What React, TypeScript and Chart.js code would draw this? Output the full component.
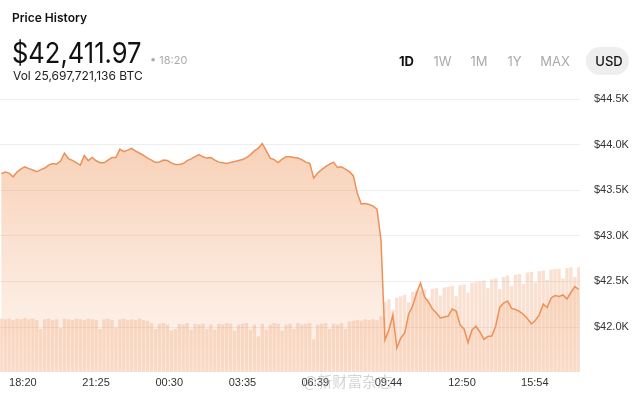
import React, { useEffect, useRef } from 'react';
import { Chart, registerables } from 'chart.js';

Chart.register(...registerables);

// x-axis tick labels (time of day)
const timeLabels = ['18:20', '21:25', '00:30', '03:35', '06:39', '09:44', '12:50', '15:54'];
// y-axis tick values (USD)
const priceTicks = [42000, 42500, 43000, 43500, 44000, 44500];

// Price samples, every 10 minutes, starting 20 min before 18:20
const START_MIN = -20;
const STEP_MIN = 10;
const priceValues = [
  43683, 43700, 43689, 43648, 43700, 43735, 43758, 43738, 43722, 43703,
  43727, 43744, 43776, 43793, 43787, 43820, 43908, 43848, 43828, 43804,
  43776, 43881, 43826, 43861, 43824, 43802, 43802, 43831, 43859, 43859,
  43952, 43924, 43941, 43959, 43930, 43906, 43883, 43853, 43831, 43806,
  43811, 43831, 43826, 43801, 43784, 43784, 43793, 43826, 43844, 43870,
  43891, 43867, 43853, 43859, 43831, 43809, 43802, 43795, 43806, 43815,
  43826, 43838, 43859, 43891, 43932, 43963, 44012, 43935, 43853, 43837,
  43804, 43842, 43867, 43867, 43859, 43853, 43837, 43809, 43795, 43634,
  43689, 43727, 43760, 43787, 43809, 43751, 43758, 43733, 43705, 43661,
  43470, 43349, 43354, 43344, 43327, 43294, 42954, 41858, 41968, 42132,
  41770, 41880, 41935, 42143, 42231, 42374, 42483, 42330, 42275, 42198,
  42154, 42100, 42110, 42121, 42198, 42176, 42023, 41979, 41830, 41968,
  42009, 41946, 41864, 41896, 41902, 42012, 42215, 42264, 42286, 42204,
  42193, 42171, 42138, 42094, 42034, 42072, 42132, 42253, 42215, 42319,
  42346, 42335, 42352, 42308, 42379, 42443, 42412,
];

// Volume per 10-minute interval (millions, relative)
const volumeValues = [
  72, 71, 72, 70, 72, 71, 73, 71, 72, 70,
  58, 71, 72, 70, 71, 59, 72, 71, 70, 72,
  71, 70, 72, 71, 70, 58, 71, 72, 70, 60,
  71, 72, 70, 71, 70, 72, 70, 69, 66, 58,
  65, 66, 64, 56, 58, 65, 64, 66, 57, 65,
  64, 65, 58, 64, 57, 65, 64, 66, 65, 56,
  64, 65, 66, 57, 64, 48, 65, 57, 64, 66,
  65, 56, 64, 65, 58, 66, 64, 65, 66, 44,
  64, 65, 66, 58, 65, 64, 66, 58, 68, 69,
  70, 69, 71, 70, 71, 70, 75, 95, 98, 84,
  100, 102, 104, 94, 108, 110, 110, 111, 99, 112,
  113, 103, 114, 115, 116, 102, 117, 118, 107, 120,
  121, 122, 123, 113, 125, 126, 112, 128, 130, 116,
  131, 132, 119, 134, 135, 121, 136, 137, 124, 138,
  139, 139, 126, 140, 141, 128, 141,
];

const AXIS_FONT = '"Liberation Sans", Arial, Helvetica, sans-serif';
const UI_FONT = 'Inter, "Noto Sans", sans-serif';

function toMinutes(label: string): number {
  const [h, m] = label.split(':').map(Number);
  let v = h * 60 + m - (18 * 60 + 20);
  if (v < 0) v += 1440;
  return v;
}

export default function App() {
  const ref = useRef<HTMLCanvasElement>(null);

  useEffect(() => {
    const canvas = ref.current;
    if (!canvas) return;
    const times = priceValues.map((_, i) => START_MIN + i * STEP_MIN);
    const tickMins = timeLabels.map(toMinutes);

    const chart = new Chart(canvas, {
      type: 'line',
      data: {
        datasets: [
          {
            type: 'line',
            data: priceValues.map((v, i) => ({ x: times[i], y: v })),
            borderColor: '#EA9258',
            borderWidth: 1.5,
            pointRadius: 0,
            tension: 0,
            fill: 'start',
            backgroundColor: (c: any) => {
              const area = c.chart.chartArea;
              if (!area) return 'rgba(240,160,110,0.3)';
              const g = c.chart.ctx.createLinearGradient(0, area.top, 0, area.bottom);
              g.addColorStop(0, 'rgba(240,155,100,0.55)');
              g.addColorStop(1, 'rgba(240,155,100,0.08)');
              return g;
            },
            yAxisID: 'y',
            order: 1,
          } as any,
          {
            type: 'bar',
            data: volumeValues.map((v, i) => ({ x: times[i], y: v })),
            backgroundColor: 'rgba(240,160,110,0.32)',
            categoryPercentage: 1,
            barPercentage: 0.86,
            yAxisID: 'yVol',
            order: 2,
          } as any,
        ],
      },
      options: {
        responsive: false,
        maintainAspectRatio: false,
        animation: false,
        layout: { padding: { top: 90, left: 0, right: 0, bottom: 0 } },
        plugins: { legend: { display: false }, tooltip: { enabled: false } },
        scales: {
          x: {
            type: 'linear',
            min: -23,
            max: 1443,
            offset: false,
            grid: { display: false, drawTicks: false },
            border: { display: false },
            afterBuildTicks: (s: any) => {
              s.ticks = tickMins.map((v) => ({ value: v }));
            },
            afterFit: (s: any) => {
              s.height = 30;
            },
            ticks: {
              autoSkip: false,
              maxRotation: 0,
              align: 'start',
              padding: 4,
              color: '#333',
              font: { family: AXIS_FONT, size: 11 },
              callback: (v: any) => {
                const k = tickMins.indexOf(Number(v));
                return k >= 0 ? timeLabels[k] : '';
              },
            },
          },
          y: {
            position: 'right',
            min: 41507,
            max: 44600,
            grid: { color: '#eeeeee', drawTicks: false },
            border: { display: false },
            afterBuildTicks: (s: any) => {
              s.ticks = priceTicks.map((v) => ({ value: v }));
            },
            afterFit: (s: any) => {
              s.width = 60;
            },
            ticks: {
              padding: 14,
              color: '#333',
              font: { family: AXIS_FONT, size: 11 },
              callback: (v: any) => '$' + (Number(v) / 1000).toFixed(1) + 'K',
            },
          },
          yVol: { display: false, min: 0, max: 380 },
        },
      } as any,
    });
    return () => chart.destroy();
  }, []);

  const abs = (s: React.CSSProperties): React.CSSProperties => ({
    position: 'absolute',
    lineHeight: 1,
    whiteSpace: 'nowrap',
    fontFamily: UI_FONT,
    ...s,
  });

  const btn = (label: string, cx: number, active: boolean) => (
    <span
      key={label}
      style={abs({
        left: cx,
        top: 55,
        transform: 'translateX(-50%)',
        fontSize: 13,
        fontWeight: active ? 700 : 400,
        color: active ? '#111' : '#aaaaaa',
      })}
    >
      {label}
    </span>
  );

  return (
    <div style={{ position: 'fixed', left: 0, top: 0, width: 640, height: 402, background: '#fff', overflow: 'hidden' }}>
      <canvas ref={ref} width={640} height={402} style={{ position: 'absolute', left: 0, top: 0, width: 640, height: 402 }} />
      <span style={abs({ left: 12, top: 12, fontSize: 12, fontWeight: 600, color: '#111' })}>Price History</span>
      <span style={abs({ left: 12, top: 38, fontSize: 29, fontWeight: 400, color: '#111', transform: 'scaleX(0.88)', transformOrigin: 'left' })}>$42,411.97</span>
      <span style={abs({ left: 150, top: 55, fontSize: 11, color: '#aaaaaa' })}>• 18:20</span>
      <span style={abs({ left: 13, top: 70, fontSize: 12, color: '#222' })}>Vol 25,697,721,136 BTC</span>
      {btn('1D', 406.5, true)}
      {btn('1W', 442.5, false)}
      {btn('1M', 479, false)}
      {btn('1Y', 514.5, false)}
      {btn('MAX', 555, false)}
      <div style={{ position: 'absolute', left: 586, top: 47, width: 43, height: 28, borderRadius: 14, background: '#eeeeee' }} />
      <span style={abs({ left: 609, top: 55, transform: 'translateX(-50%)', fontSize: 13, fontWeight: 500, color: '#111' })}>USD</span>
      <span style={abs({ left: 303, top: 373, fontSize: 15, fontFamily: '"Noto Sans CJK SC", sans-serif', color: 'rgba(160,160,160,0.45)' })}>@新财富杂志</span>
    </div>
  );
}
